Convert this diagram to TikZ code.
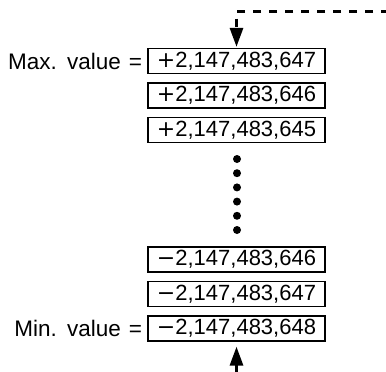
\documentclass[tikz,border=0pt]{standalone}
\usepackage{fontspec}
\setmainfont{Liberation Sans}
\newfontfamily\signfont{DejaVu Sans}
\newfontfamily\labelfont[WordSpace=1.3]{Liberation Sans}
\usetikzlibrary{arrows.meta}
\newcommand{\pl}{{\signfont +}}
\newcommand{\mn}{{\signfont −}}

\begin{document}
\begin{tikzpicture}[x=1pt,y=-1pt]
    \tikzstyle{valbox}=[draw,line width=1.3pt,minimum width=177pt,minimum height=25pt,inner sep=0pt,font=\fontsize{22}{26}\selectfont]
    \tikzstyle{vlabel}=[anchor=east,inner sep=0pt,font=\labelfont\fontsize{22.5}{26}\selectfont]
    \tikzstyle{vdot}=[circle,fill=black,minimum size=8pt,inner sep=0pt]
    \tikzstyle{ptr}=[line width=3pt,-{Triangle[length=19pt,width=13pt]}]
    \useasboundingbox (0,0) rectangle (386,372);
      \node[valbox] (V_1) at (236.5,61)    {\pl2,147,483,647};
      \node[valbox] (V_2) at (236.5,95.5)  {\pl2,147,483,646};
      \node[valbox] (V_3) at (236.5,130)   {\pl2,147,483,645};
      \node[valbox] (V_4) at (236.5,259.5) {\mn2,147,483,646};
      \node[valbox] (V_5) at (236.5,294)   {\mn2,147,483,647};
      \node[valbox] (V_6) at (236.5,328.5) {\mn2,147,483,648};
      \node[vlabel] (L_max) at ([xshift=-5pt]V_1.west) {Max. value =};
      \node[vlabel] (L_min) at ([xshift=-5pt]V_6.west) {Min. value =};
      \foreach \y [count=\i] in {159,173.2,187.4,201.6,215.8,230}
        \node[vdot] (D_\i) at (237,\y) {};
      % wrap-around pointers
      \coordinate (C_in) at (389,11);
      \coordinate (C_turn) at (236.5,11);
      \coordinate (C_low) at (236.5,372);
      \draw[ptr,dash pattern=on 8pt off 8pt,shorten >=1pt] (C_in) -- (C_turn) -- (V_1);
      \draw[ptr,shorten >=5pt] (C_low) -- (V_6);
    \end{tikzpicture}
\end{document}
